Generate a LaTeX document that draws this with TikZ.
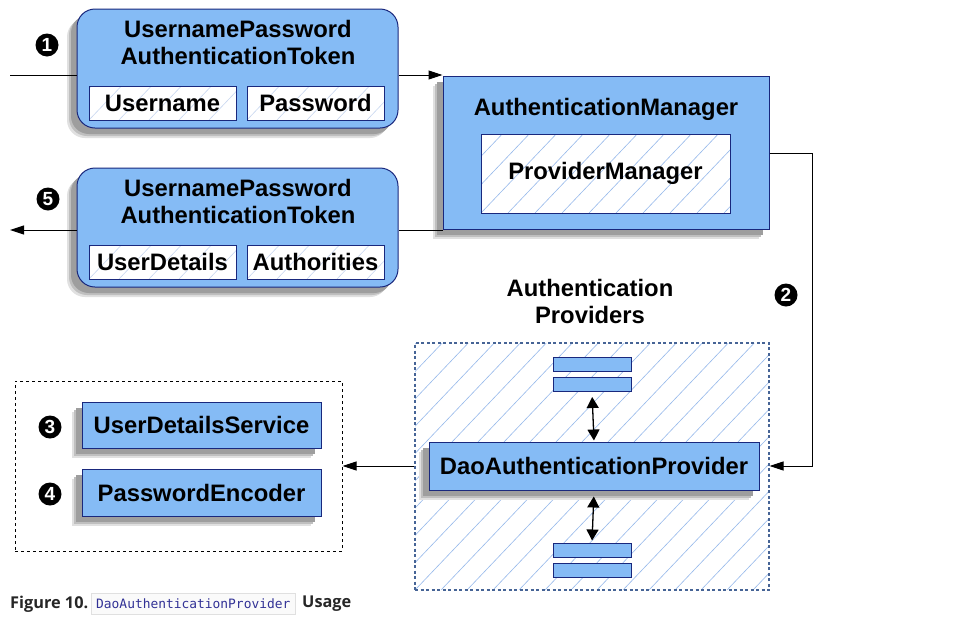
\documentclass[tikz,border=0pt]{standalone}
\usepackage{fontspec}
\setmainfont{Liberation Sans}
\newfontfamily\capfont{Open Sans}
\newfontfamily\codefont{DejaVu Sans Mono}
\usetikzlibrary{arrows.meta,shadows,calc}
\definecolor{boxblue}{RGB}{133,187,245}
\definecolor{edgeblue}{RGB}{25,40,125}
\definecolor{hatchblue}{RGB}{150,185,235}
\definecolor{hatchfaint}{RGB}{200,215,240}
\definecolor{dashblue}{RGB}{70,100,150}
\definecolor{codeblue}{RGB}{50,50,150}
\begin{document}
\begin{tikzpicture}[x=1pt,y=-1pt,
  big/.style={font=\fontsize{23.8}{27}\selectfont\bfseries, align=center},
  shad/.style={
    drop shadow={shadow xshift=-10pt,shadow yshift=-10pt,fill=black!12,opacity=1},
    drop shadow={shadow xshift=-8pt,shadow yshift=-8pt,fill=black!25,opacity=1},
    drop shadow={shadow xshift=-6pt,shadow yshift=-6pt,fill=black!38,opacity=1}},
  hatch/.style 2 args={path picture={
    \foreach \k in {-14,...,20}{
      \draw[#2,solid,line width=0.6pt] ([xshift={\k*#1*1pt}]path picture bounding box.south west) -- ++(300pt,315pt);}}},
  blu/.style={draw=edgeblue, fill=boxblue, line width=1pt, inner sep=2pt},
  tokbox/.style={blu, shad, rounded corners=18pt, minimum width=321pt, minimum height=119pt},
  field/.style={draw=edgeblue, fill=white, line width=1pt, inner sep=2pt, minimum height=34pt, big, hatch={30}{hatchfaint}},
  numc/.style={circle, fill=black, text=white, inner sep=0pt, minimum size=23pt, font=\fontsize{19}{19}\selectfont\bfseries},
  conn/.style={draw=black, line width=1pt},
  arr/.style={conn, -{Triangle[length=14pt,width=9pt]}},
  darr/.style={conn, line width=1.3pt, {Triangle[length=11pt,width=12pt]}-{Triangle[length=11pt,width=12pt]}},
  bar/.style={blu, minimum width=78pt, minimum height=14pt, inner sep=0pt}
]
\path[fill=white] (0,0) rectangle (958,619);
\useasboundingbox (0,0) rectangle (958,619);

% dashed containers
\node[draw=dashblue, line width=1.1pt, dash pattern=on 3pt off 2.5pt, fill=white, hatch={26}{hatchblue},
  minimum width=354pt, minimum height=247pt, inner sep=0pt] (prov) at (592,466.5) {};
\node[draw=black, line width=1pt, dash pattern=on 3pt off 3pt, minimum width=327pt, minimum height=170pt, inner sep=0pt] (left) at (178.5,466) {};

% token 1
\node[tokbox] (tok1) at (237.5,68.5) {};
\node[big] (tok1t) at (238,42.5) {UsernamePassword\\AuthenticationToken};
\node[field, minimum width=147pt] (user) at (162.5,103) {Username};
\node[field, minimum width=137pt] (pass) at (315.5,103) {Password};

% token 2
\node[tokbox] (tok2) at (237.5,227.5) {};
\node[big] (tok2t) at (238,201.5) {UsernamePassword\\AuthenticationToken};
\node[field, minimum width=147pt] (ud) at (162.5,262) {UserDetails};
\node[field, minimum width=137pt] (auth) at (315.5,262) {Authorities};

% authentication manager
\node[blu, shad, minimum width=326pt, minimum height=153pt, inner sep=0pt] (am) at (606,152.5) {};
\node[big] (amt) at (606,109) {AuthenticationManager};
\node[draw=edgeblue, fill=white, line width=1pt, hatch={27}{hatchblue}, minimum width=249pt, minimum height=79pt, big, inner sep=0pt] (pm) at (605.5,173.5) {ProviderManager};

% providers label
\node[big] (provt) at (590,301.5) {Authentication\\Providers};

% bars
\node[bar] (b1) at (592,364) {};
\node[bar] (b2) at (592,384.5) {};
\node[bar] (b3) at (592,550) {};
\node[bar] (b4) at (592,570) {};

% dao
\node[blu, shad, minimum width=330pt, minimum height=48pt, big] (dao) at (594,466) {DaoAuthenticationProvider};

% uds / pe
\node[blu, shad, minimum width=239pt, minimum height=46pt, big] (uds) at (201.5,425) {UserDetailsService};
\node[blu, shad, minimum width=239pt, minimum height=47pt, big] (pe) at (201.5,492.5) {PasswordEncoder};

% numbers
\node[numc] (n1) at (47,45) {1};
\node[numc] (n5) at (48,199) {5};
\node[numc] (n2) at (786,295) {2};
\node[numc] (n3) at (50,427) {3};
\node[numc] (n4) at (50,494) {4};

% connectors
\coordinate (in1) at (10,75);
\draw[conn] (in1) -- (in1 -| tok1.west);
\draw[arr] (in1 -| tok1.east) -- (in1 -| am.west);
\coordinate (out5) at (10,230);
\draw[conn] (out5 -| am.west) -- (out5 -| tok2.east);
\draw[arr] (out5 -| tok2.west) -- (out5);
\coordinate (turn) at (812,153);
\draw[arr] (turn -| am.east) -- (turn) |- (dao -| prov.east);
\draw[arr] (dao -| prov.west) -- (dao -| left.east);
\draw[darr, shorten <=5pt, shorten >=1pt] (b2.south) -- (dao.north);
\draw[darr, shorten <=6pt, shorten >=2pt] (dao.south) -- (b3.north);

% caption
\node[anchor=west, inner sep=0pt, font=\capfont\bfseries\fontsize{16.3}{18}\selectfont, text=black!85] (figl) at (10,604) {Figure 10.};
\node[anchor=west, draw=black!12, fill=black!2, text=codeblue, font=\codefont\fontsize{12.9}{14}\selectfont, inner xsep=5pt, minimum height=21pt] (code) at (91,604) {DaoAuthenticationProvider};
\node[anchor=west, inner sep=0pt, font=\capfont\bfseries\fontsize{16.3}{18}\selectfont, text=black!85] (usage) at (302,604) {Usage};
\end{tikzpicture}
\end{document}
